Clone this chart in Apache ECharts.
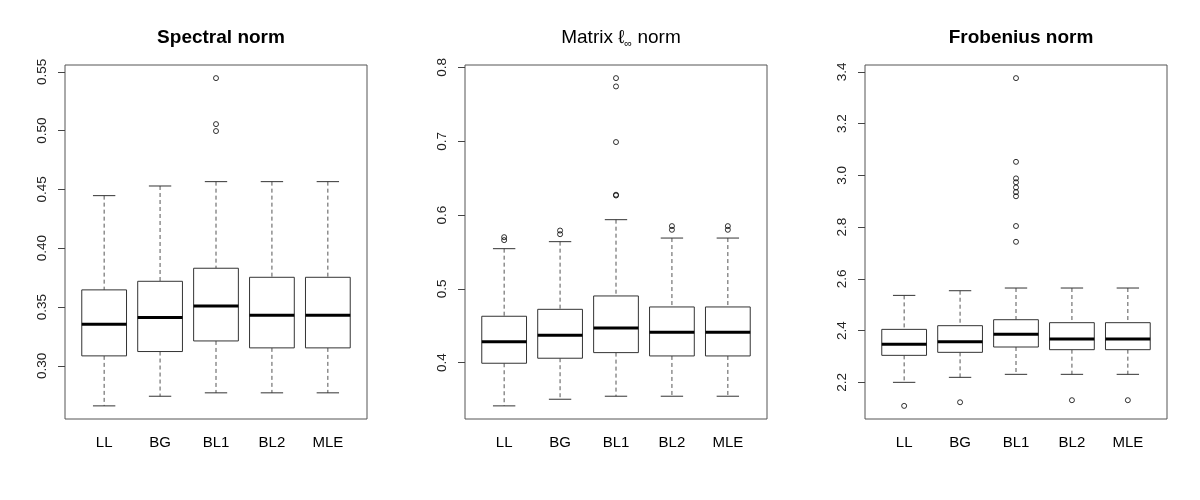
<!DOCTYPE html>
<html>
<head>
<meta charset="utf-8">
<script src="https://cdn.jsdelivr.net/npm/echarts@6/dist/echarts.min.js"></script>
<style>
  html, body { margin: 0; padding: 0; background: #fff; }
  #main { width: 1200px; height: 500px; }
</style>
</head>
<body>
<div id="main"></div>
<script>
var methods = ['LL', 'BG', 'BL1', 'BL2', 'MLE'];

// each row: [lower whisker, Q1, median, Q3, upper whisker]
var spectralStats = [
    [0.266, 0.3085, 0.3354, 0.3646, 0.4447],
    [0.2742, 0.3122, 0.3411, 0.3719, 0.4529],
    [0.2771, 0.3212, 0.3510, 0.3830, 0.4566],
    [0.2771, 0.3153, 0.3430, 0.3753, 0.4566],
    [0.2771, 0.3153, 0.3430, 0.3753, 0.4566]
];
var spectralOutliers = [[], [], [0.5446, 0.5055, 0.4996], [], []];
var spectralTicks = ['0.30', '0.35', '0.40', '0.45', '0.50', '0.55'];

var linfStats = [
    [0.3413, 0.3991, 0.4284, 0.4628, 0.5544],
    [0.3503, 0.4059, 0.4370, 0.4722, 0.5639],
    [0.3544, 0.4135, 0.4470, 0.4903, 0.5937],
    [0.3544, 0.4090, 0.4411, 0.4754, 0.5688],
    [0.3544, 0.4090, 0.4411, 0.4754, 0.5688]
];
var linfOutliers = [
    [0.570, 0.566],
    [0.579, 0.574],
    [0.7856, 0.7743, 0.6989, 0.6275, 0.6265],
    [0.585, 0.580],
    [0.585, 0.580]
];
var linfTicks = ['0.4', '0.5', '0.6', '0.7', '0.8'];

var frobStats = [
    [2.200, 2.3043, 2.3468, 2.4047, 2.536],
    [2.2193, 2.3159, 2.3571, 2.4189, 2.554],
    [2.2309, 2.3365, 2.3854, 2.4420, 2.5644],
    [2.2309, 2.3262, 2.3674, 2.4305, 2.5644],
    [2.2309, 2.3262, 2.3674, 2.4305, 2.5644]
];
var frobOutliers = [
    [2.109],
    [2.123],
    [3.3755, 3.052, 2.988, 2.973, 2.953, 2.935, 2.919, 2.804, 2.743],
    [2.131],
    [2.131]
];
var frobTicks = ['2.2', '2.4', '2.6', '2.8', '3.0', '3.2', '3.4'];

var titles = ['Spectral norm', 'Matrix ℓ{sub|∞} norm', 'Frobenius norm'];

var panels = [
    { stats: spectralStats, outliers: spectralOutliers, ticks: spectralTicks, bold: true },
    { stats: linfStats, outliers: linfOutliers, ticks: linfTicks, bold: false },
    { stats: frobStats, outliers: frobOutliers, ticks: frobTicks, bold: true }
];

var font = '"Liberation Sans", Arial, Helvetica, sans-serif';
var plotLeft = [65, 465, 865];
var plotW = 302, plotTop = 65, plotH = 354;

var myChart = echarts.init(document.getElementById('main'));

// R style range: data extent padded by 4% on both sides
let yRange = function(p) {
    let vals = [];
    p.stats.forEach(function(s) { vals.push(s[0], s[4]); });
    p.outliers.forEach(function(o) { vals = vals.concat(o); });
    let lo = Math.min.apply(null, vals), hi = Math.max.apply(null, vals);
    let pad = (hi - lo) * 0.04;
    return [lo - pad, hi + pad];
};

let renderBox = function(params, api) {
    let x = api.value(0);
    let low = api.coord([x, api.value(1)]);
    let q1 = api.coord([x, api.value(2)]);
    let med = api.coord([x, api.value(3)]);
    let q3 = api.coord([x, api.value(4)]);
    let high = api.coord([x, api.value(5)]);
    let bw = api.size([0.8, 0])[0];
    let cx = low[0];
    let dash = { stroke: '#555', lineWidth: 1, lineDash: [4, 3] };
    let solid = { stroke: '#333', lineWidth: 1 };
    return {
        type: 'group',
        children: [
            { type: 'line', shape: { x1: cx, y1: high[1], x2: cx, y2: q3[1] }, style: dash },
            { type: 'line', shape: { x1: cx, y1: q1[1], x2: cx, y2: low[1] }, style: dash },
            { type: 'line', shape: { x1: cx - bw / 4, y1: high[1], x2: cx + bw / 4, y2: high[1] }, style: solid },
            { type: 'line', shape: { x1: cx - bw / 4, y1: low[1], x2: cx + bw / 4, y2: low[1] }, style: solid },
            { type: 'rect', shape: { x: cx - bw / 2, y: q3[1], width: bw, height: q1[1] - q3[1] },
              style: { fill: '#fff', stroke: '#333', lineWidth: 1 } },
            { type: 'line', shape: { x1: cx - bw / 2, y1: med[1], x2: cx + bw / 2, y2: med[1] },
              style: { stroke: '#000', lineWidth: 3 } }
        ]
    };
};

let option = {
    backgroundColor: '#fff',
    animation: false,
    title: [],
    grid: [],
    xAxis: [],
    yAxis: [],
    series: []
};

panels.forEach(function(p, i) {
    let range = yRange(p);
    option.title.push({
        text: titles[i],
        left: plotLeft[i] + plotW / 2,
        top: 22,
        textAlign: 'center',
        textStyle: {
            fontFamily: font,
            fontSize: 19,
            lineHeight: 22,
            fontWeight: p.bold ? 'bold' : 'normal',
            color: '#000',
            rich: {
                sub: { fontFamily: font, fontSize: 11, lineHeight: 12, verticalAlign: 'bottom', color: '#000' }
            }
        }
    });
    option.grid.push({
        left: plotLeft[i],
        top: plotTop,
        width: plotW,
        height: plotH,
        show: true,
        borderColor: '#555',
        borderWidth: 1,
        backgroundColor: 'transparent'
    });
    option.xAxis.push({
        type: 'value',
        gridIndex: i,
        min: 0.3,
        max: 5.7,
        splitLine: { show: false },
        axisLine: { show: false },
        axisTick: { show: false },
        axisLabel: {
            customValues: [1, 2, 3, 4, 5],
            formatter: function(v) { return methods[Math.round(v) - 1]; },
            margin: 16,
            fontFamily: font,
            fontSize: 15,
            color: '#000'
        }
    });
    option.yAxis.push({
        type: 'value',
        gridIndex: i,
        min: range[0],
        max: range[1],
        splitLine: { show: false },
        axisLine: { show: false },
        axisTick: {
            show: true,
            length: 7,
            lineStyle: { color: '#444' },
            customValues: p.ticks.map(Number)
        },
        axisLabel: {
            customValues: p.ticks.map(Number),
            formatter: function(v) {
                let d = p.ticks[0].split('.')[1].length;
                return v.toFixed(d);
            },
            rotate: 90,
            margin: 16,
            fontFamily: font,
            fontSize: 13.5,
            color: '#222'
        }
    });
    option.series.push({
        type: 'custom',
        xAxisIndex: i,
        yAxisIndex: i,
        renderItem: renderBox,
        encode: { x: 0, y: [1, 2, 3, 4, 5] },
        data: p.stats.map(function(s, k) { return [k + 1].concat(s); })
    });
    let pts = [];
    p.outliers.forEach(function(o, k) {
        o.forEach(function(v) { pts.push([k + 1, v]); });
    });
    option.series.push({
        type: 'scatter',
        xAxisIndex: i,
        yAxisIndex: i,
        symbol: 'circle',
        symbolSize: 5,
        itemStyle: { color: 'transparent', borderColor: '#000', borderWidth: 1 },
        data: pts
    });
});

myChart.setOption(option);
</script>
</body>
</html>
